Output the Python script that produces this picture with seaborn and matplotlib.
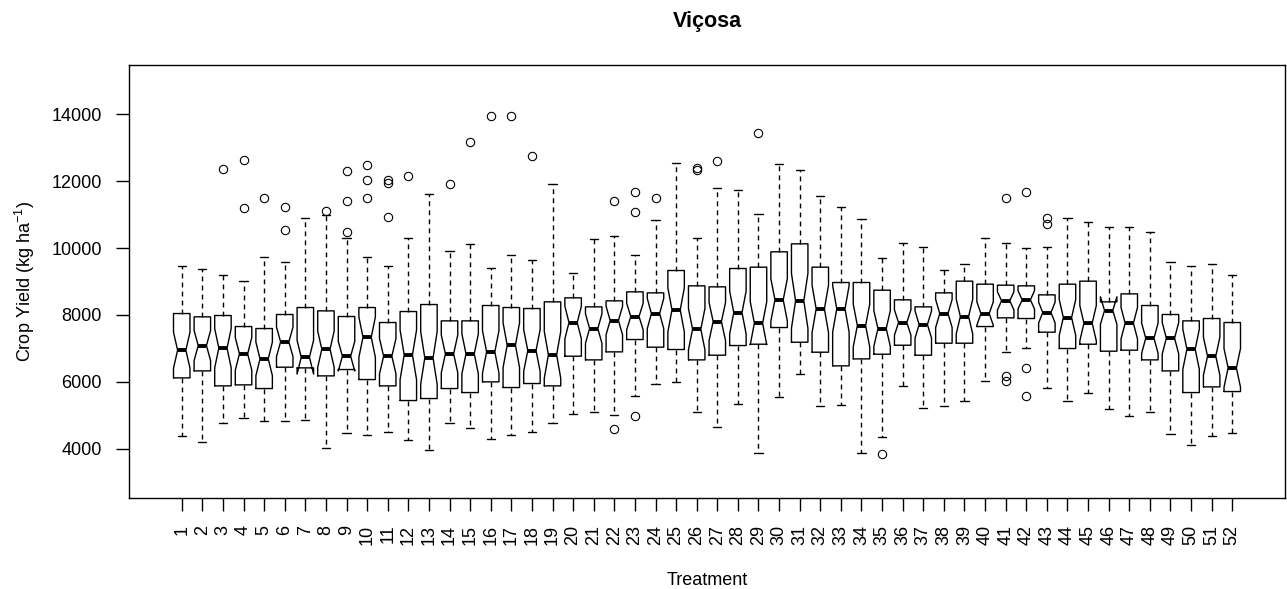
import numpy as np
import matplotlib
matplotlib.use("Agg")
import matplotlib.pyplot as plt
import seaborn as sns

# ---------------- data ----------------
treatments = [str(i) for i in range(1, 53)]

whisker_high = [9449, 9389, 9189, 9010, 9748, 9598, 10896, 10976, 10297, 9748,
                9449, 10307, 11604, 9918, 10127, 9419, 9808, 9658, 11904, 9269,
                10287, 10367, 9808, 10846, 12552, 10307, 11784, 11744, 11026, 12522,
                12343, 11545, 11225, 10866, 9718, 10167, 10027, 9359, 9528, 10307,
                10157, 9988, 10037, 10886, 10786, 10626, 10626, 10477, 9588, 9449,
                9528, 9209]
upper_hinge = [8041, 7942, 7982, 7652, 7592, 8012, 8221, 8121, 7952, 8221,
               7772, 8101, 8311, 7822, 7822, 8281, 8221, 8191, 8391, 8511,
               8241, 8421, 8690, 8660, 9329, 8870, 8840, 9389, 9429, 9888,
               10127, 9429, 8970, 8970, 8740, 8451, 8241, 8660, 9010, 8920,
               8890, 8870, 8600, 8920, 9010, 8391, 8630, 8281, 8012, 7822,
               7892, 7772]
median = [6944, 7083, 7004, 6834, 6684, 7193, 6734, 6974, 6764, 7333,
          6764, 6804, 6714, 6834, 6834, 6894, 7093, 6934, 6804, 7772,
          7592, 7832, 7952, 8041, 8151, 7573, 7802, 8071, 7752, 8451,
          8421, 8181, 8181, 7682, 7592, 7772, 7712, 8041, 7952, 8041,
          8421, 8451, 8071, 7922, 7752, 8131, 7752, 7303, 7303, 6974,
          6764, 6415]
lower_hinge = [6115, 6325, 5876, 5906, 5796, 6435, 6415, 6175, 6365, 6065,
               5876, 5437, 5497, 5796, 5676, 5996, 5826, 5946, 5876, 6764,
               6654, 6894, 7263, 7034, 6964, 6654, 6794, 7083, 7123, 7622,
               7183, 6884, 6475, 6684, 6824, 7093, 6794, 7153, 7153, 7652,
               7912, 7892, 7483, 6994, 7123, 6914, 6944, 6654, 6325, 5676,
               5846, 5706]
whisker_low = [4379, 4200, 4758, 4918, 4828, 4828, 4848, 4020, 4469, 4419,
               4499, 4259, 3960, 4758, 4618, 4289, 4419, 4499, 4758, 5048,
               5107, 4998, 5586, 5936, 5996, 5107, 4648, 5347, 3880, 5556,
               6235, 5287, 5317, 3860, 4349, 5876, 5217, 5287, 5437, 6036,
               6894, 7004, 5826, 5437, 5676, 5177, 4978, 5087, 4439, 4120,
               4379, 4469]
outliers = {
    3: [12373], 4: [12632, 11185], 5: [11485], 6: [11215, 10547],
    8: [11105], 9: [12303, 11415, 10487], 10: [12493, 12044, 11485],
    11: [12044, 11934, 10916], 12: [12163], 14: [11924], 15: [13161],
    16: [13950], 17: [13950], 18: [12752], 22: [11415, 4578],
    23: [11684, 11095, 4988], 24: [11505], 26: [12393, 12323], 27: [12602],
    29: [13441], 35: [3830], 41: [11505, 6175, 6016],
    42: [11684, 6425, 5567], 43: [10906, 10726],
}
n_per_treatment = 32          # observations per box (used for the notch)
y_ticks = [4000, 6000, 8000, 10000, 12000, 14000]

# ---------------- style ----------------
sns.set_theme(style="ticks")
plt.rcParams["font.family"] = ["Liberation Sans", "DejaVu Sans"]
plt.rcParams["text.color"] = "black"
plt.rcParams["axes.labelcolor"] = "black"
plt.rcParams["mathtext.fontset"] = "custom"
plt.rcParams["mathtext.rm"] = "Liberation Sans"
plt.rcParams["mathtext.it"] = "Liberation Sans:italic"
plt.rcParams["mathtext.bf"] = "Liberation Sans:bold"

fig = plt.figure(figsize=(12.87, 5.89), dpi=100)
fig.patch.set_facecolor("white")
ax = fig.add_axes([128.6 / 1287, (589 - 498) / 589, 1156.8 / 1287, 433 / 589])
ax.set_facecolor("white")

stats = []
for i in range(len(treatments)):
    iqr = upper_hinge[i] - lower_hinge[i]
    half = 1.58 * iqr / np.sqrt(n_per_treatment)
    stats.append(dict(
        med=median[i], q1=lower_hinge[i], q3=upper_hinge[i],
        whislo=whisker_low[i], whishi=whisker_high[i],
        cilo=median[i] - half, cihi=median[i] + half,
        fliers=outliers.get(i + 1, []), label=treatments[i],
    ))

positions = np.arange(1, len(treatments) + 1)
ax.bxp(stats, positions=positions, widths=0.8, shownotches=True,
       boxprops=dict(color="black", linewidth=1.0),
       whiskerprops=dict(color="black", linewidth=1.0, linestyle=(0, (3.5, 3))),
       capprops=dict(color="black", linewidth=1.0),
       medianprops=dict(color="black", linewidth=2.8, solid_capstyle="butt"),
       flierprops=dict(marker="o", markerfacecolor="none", markeredgecolor="black",
                       markersize=6, markeredgewidth=0.8))

ax.set_xlim(-1.58, 54.58)
ax.set_ylim(2520, 15480)
ax.set_xticks(positions)
ax.set_xticklabels(treatments, rotation=90)
ax.set_yticks(y_ticks)
ax.set_yticklabels([str(v) for v in y_ticks])

for s in ax.spines.values():
    s.set_color("black")
    s.set_linewidth(1.0)
    s.set_visible(True)
ax.tick_params(axis="both", direction="out", length=9.7, width=1.0, color="black",
               labelcolor="black", labelsize=13, pad=9.5)

ax.set_title("Viçosa", fontsize=15.5, fontweight="bold", pad=27, color="black")
ax.set_xlabel("Treatment", fontsize=13, color="black")
ax.set_ylabel("Crop Yield (kg ha$^{-1}$)", fontsize=13, color="black")
ax.xaxis.set_label_coords(0.5, -0.170)
ax.yaxis.set_label_coords((37 - 128.6) / 1156.8, 0.5)
ax.grid(False)

fig.savefig("out.png", dpi=100, facecolor="white")
